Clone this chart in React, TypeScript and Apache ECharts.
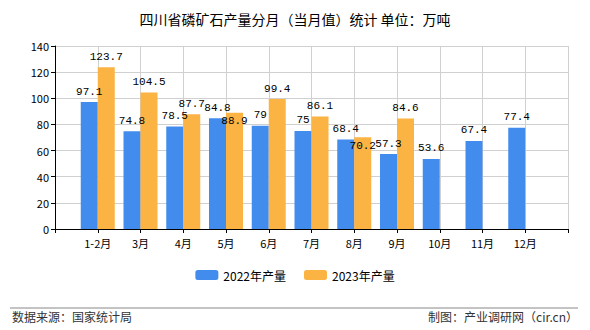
import React, { useEffect, useRef } from "react";
import * as echarts from "echarts";

const categories = ["", "1-2月", "3月", "4月", "5月", "6月", "7月", "8月", "9月", "10月", "11月", "12月", ""];
const series2022 = [null, 97.1, 74.8, 78.5, 84.8, 79, 75, 68.4, 57.3, 53.6, 67.4, 77.4, null];
const series2023 = [null, 123.7, 104.5, 87.7, 88.9, 99.4, 86.1, 70.2, 84.6, null, null, null, null];
const shiftedDown2023 = [4, 7]; // indexes whose labels were pushed below bar top
const yTicks = [0, 20, 40, 60, 80, 100, 120, 140];

const FONT = "'Noto Sans CJK SC', 'DejaVu Sans', sans-serif";
const MONO = "'Liberation Mono', 'DejaVu Sans Mono', monospace";

export default function App() {
  const ref = useRef<HTMLDivElement>(null);
  useEffect(() => {
    const chart = echarts.init(ref.current!, null, { renderer: "svg" });
    const labelStyle = { show: true, position: "top", color: "#000", fontSize: 11, fontFamily: MONO, distance: 5 };
    chart.setOption({
      animation: false,
      title: {
        text: "四川省磷矿石产量分月（当月值）统计 单位：万吨",
        left: "center",
        top: 7,
        textStyle: { fontSize: 14, fontWeight: "normal", color: "#000", fontFamily: FONT },
      },
      legend: {
        bottom: 44,
        left: "center",
        itemWidth: 23,
        itemHeight: 10,
        itemGap: 18,
        textStyle: { fontSize: 12, color: "#000", fontFamily: FONT },
        data: ["2022年产量", "2023年产量"],
      },
      grid: { left: 55, right: 22, top: 46, bottom: 101, containLabel: false },
      xAxis: {
        type: "category",
        data: categories,
        boundaryGap: false,
        axisLine: { lineStyle: { color: "#000" } },
        axisTick: { show: true, lineStyle: { color: "#000" }, length: 4 },
        axisLabel: { color: "#000", fontSize: 11, fontFamily: FONT, margin: 8, interval: 0 },
        splitLine: { show: true, lineStyle: { color: "#d0d0d0" } },
      },
      yAxis: {
        type: "value",
        min: yTicks[0],
        max: yTicks[yTicks.length - 1],
        interval: 20,
        axisLine: { show: true, lineStyle: { color: "#000" } },
        axisTick: { show: true, lineStyle: { color: "#000" }, length: 4 },
        axisLabel: { color: "#000", fontSize: 11, fontFamily: FONT, margin: 6 },
        splitLine: { show: true, lineStyle: { color: "#d0d0d0" } },
      },
      series: [
        {
          name: "2022年产量",
          type: "bar",
          data: series2022,
          barWidth: 17,
          barGap: "0%",
          itemStyle: { color: "#428CEE" },
          label: labelStyle,
        },
        {
          name: "2023年产量",
          type: "bar",
          data: series2023.map((v, i) =>
            shiftedDown2023.includes(i)
              ? { value: v, label: { offset: [0, 19] } }
              : v
          ),
          barWidth: 17,
          itemStyle: { color: "#FBB343" },
          label: labelStyle,
        },
      ],
      graphic: [
        { type: "line", shape: { x1: 10, y1: 308, x2: 578, y2: 308 }, style: { stroke: "#888", lineWidth: 1 } },
        {
          type: "text",
          left: 12,
          top: 310,
          style: { text: "数据来源：国家统计局", fontSize: 12, fill: "#333", fontFamily: FONT },
        },
        {
          type: "text",
          right: 12,
          top: 310,
          style: { text: "制图：产业调研网（cir.cn）", fontSize: 12, fill: "#333", fontFamily: FONT },
        },
      ],
    });
    return () => chart.dispose();
  }, []);
  return <div ref={ref} style={{ position: "absolute", left: 0, top: 0, width: 590, height: 330 }} />;
}
